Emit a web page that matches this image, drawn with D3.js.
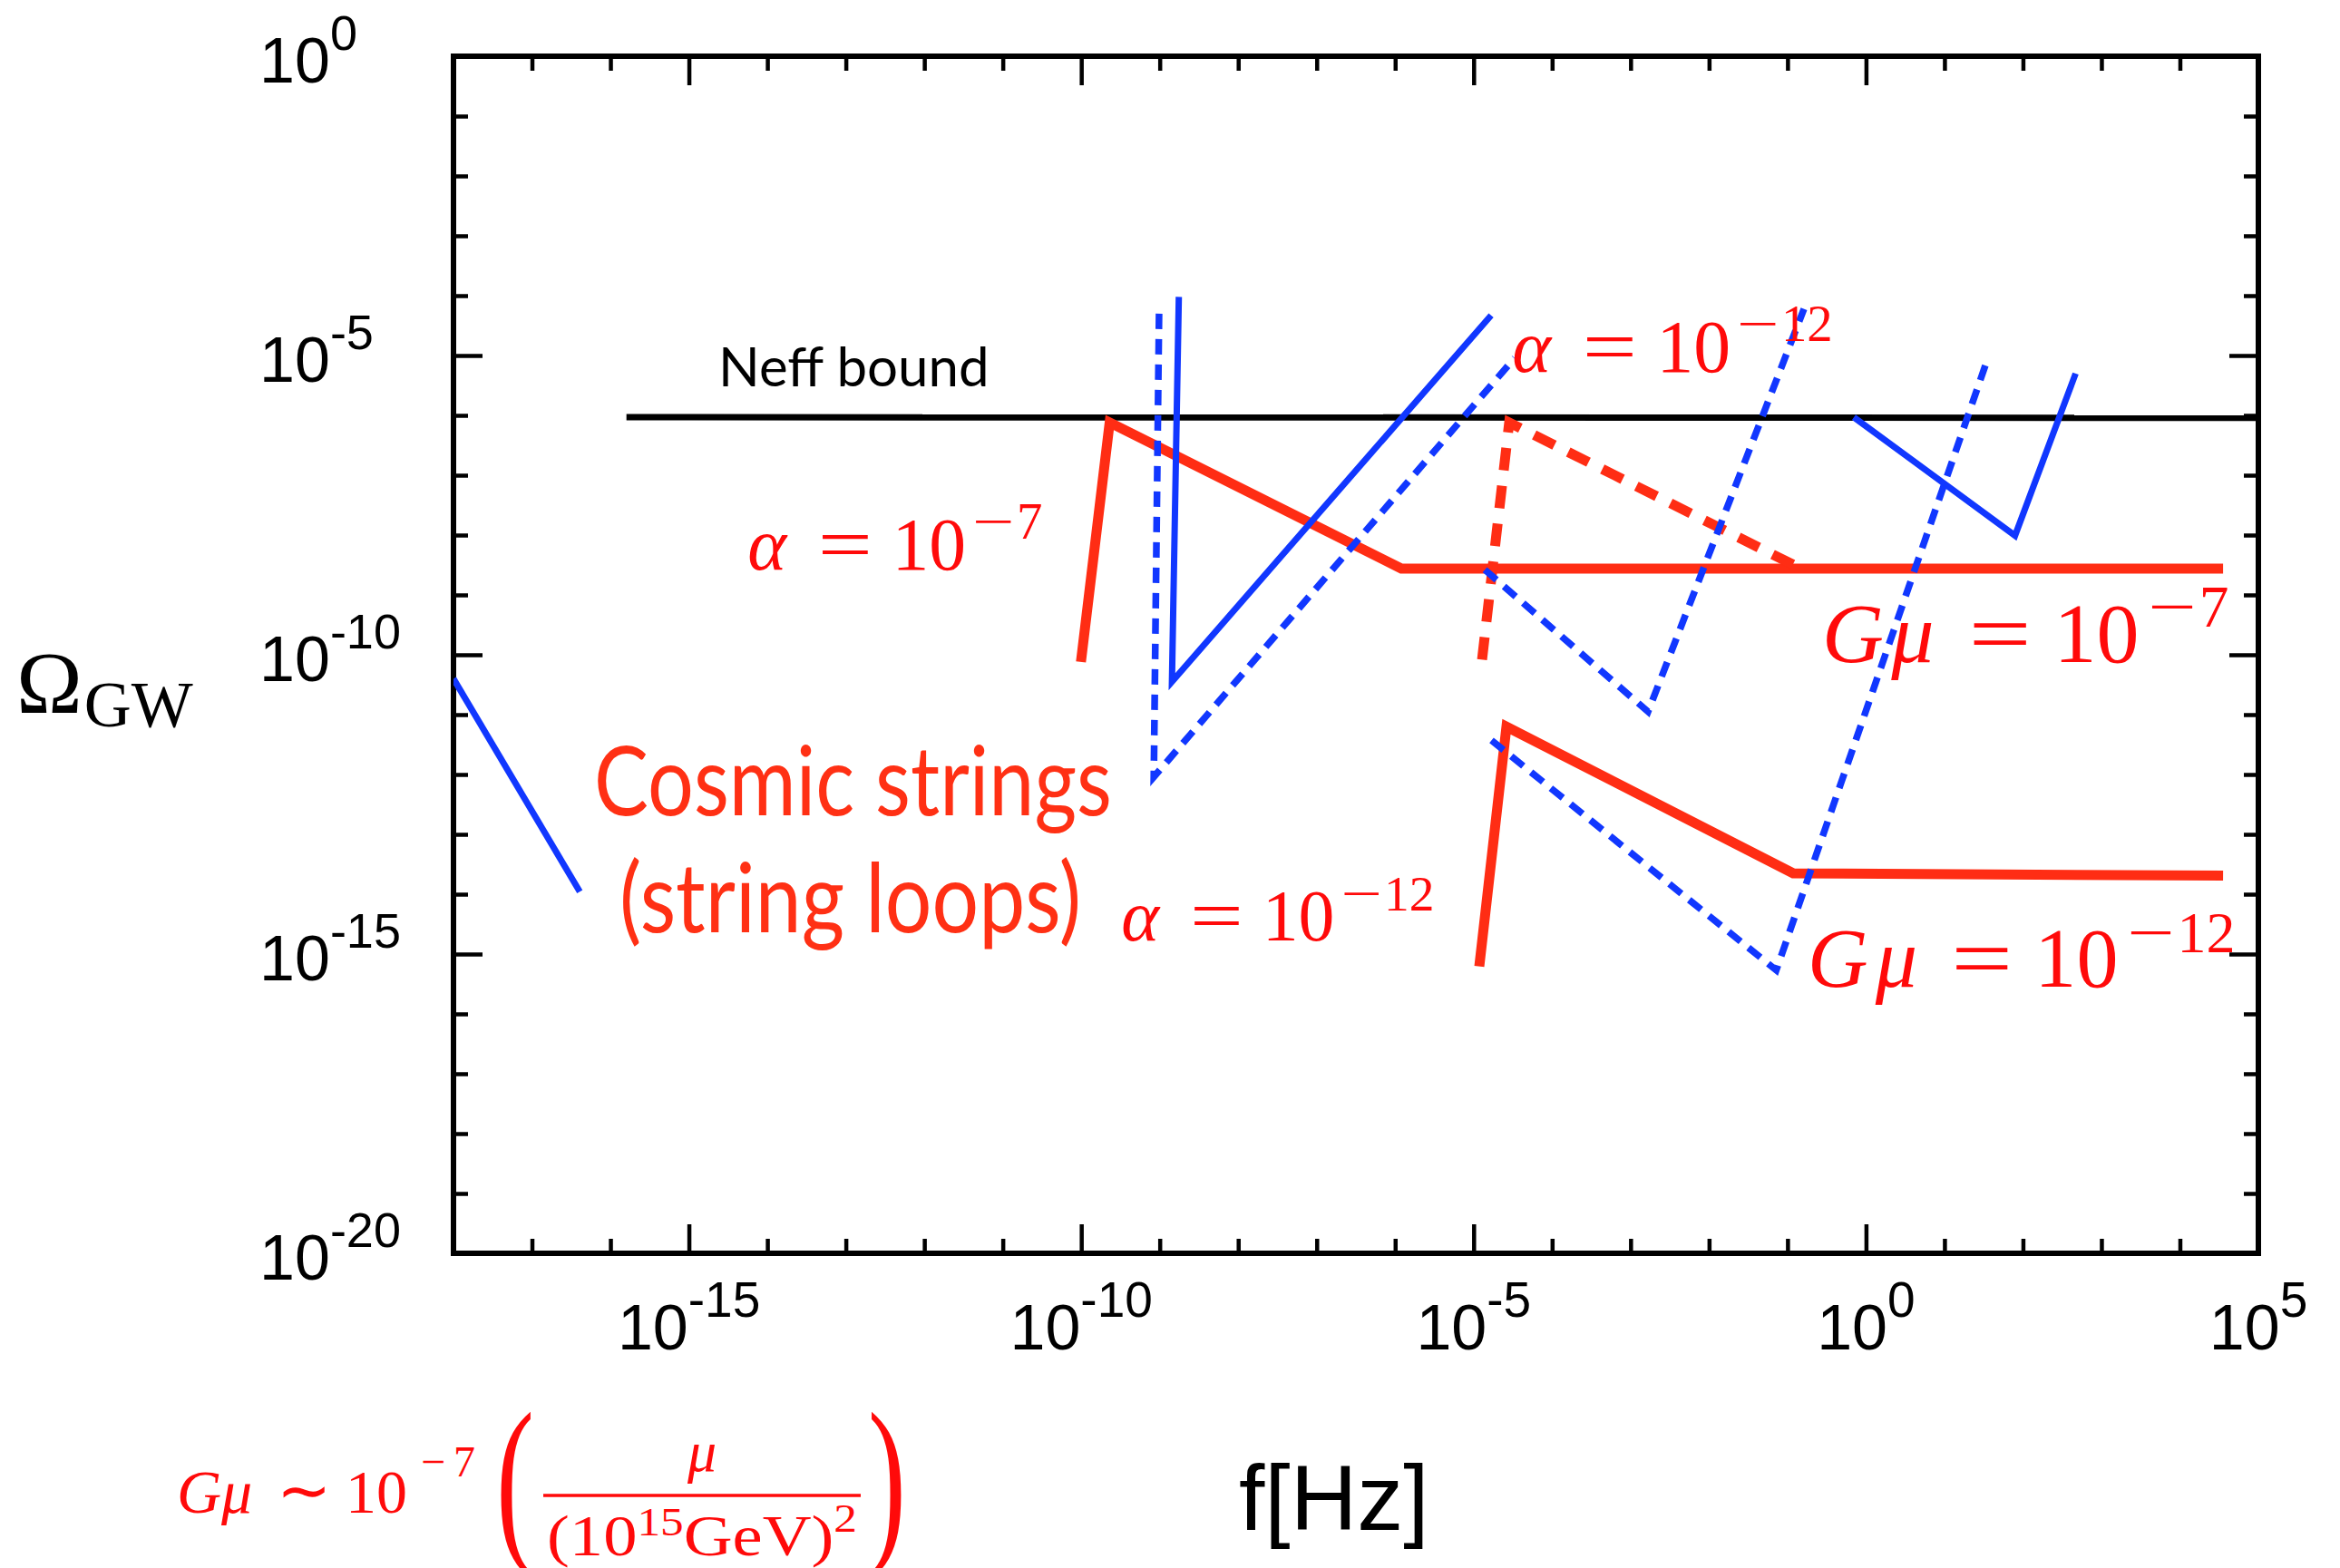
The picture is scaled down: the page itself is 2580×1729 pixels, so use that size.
<!DOCTYPE html>
<html>
<head>
<meta charset="utf-8">
<script src="https://cdn.jsdelivr.net/npm/d3@7/dist/d3.min.js"></script>
<style>
  html, body { margin: 0; padding: 0; background: #fff; }
  svg { display: block; }
</style>
</head>
<body>
<div id="chart"></div>
<script>
var width = 2580,
	height = 1729;

// axis ticks (Hz and Omega)
var xMajorTicks = [1e-15, 1e-10, 1e-5, 1, 1e5];
var xMajorExp = ['-15', '-10', '-5', '0', '5'];
var xMinorTicks = [1e-17, 1e-16, 1e-14, 1e-13, 1e-12, 1e-11, 1e-9, 1e-8, 1e-7, 1e-6,
	1e-4, 1e-3, 1e-2, 1e-1, 1e1, 1e2, 1e3, 1e4];
var yMajorTicks = [1, 1e-5, 1e-10, 1e-15, 1e-20];
var yMajorExp = ['0', '-5', '-10', '-15', '-20'];
var yMinorTicks = [1e-1, 1e-2, 1e-3, 1e-4, 1e-6, 1e-7, 1e-8, 1e-9, 1e-11, 1e-12, 1e-13, 1e-14,
	1e-16, 1e-17, 1e-18, 1e-19];

// curves: [f (Hz), Omega_GW]
var neffBound   = [[1.6e-16, 9.3e-7], [1e5, 9.1e-7]];
var blueLeft    = [[1e-18, 3.98e-11], [4.07e-17, 1.10e-14]];
var blueSolidA  = [[1.75e-9, 9.55e-5], [1.43e-9, 3.55e-11], [1.67e-5, 4.68e-5]];
var blueDashA   = [[9.8e-10, 5.0e-5], [8.4e-10, 9.1e-13], [3.33e-5, 9.1e-6]];
var blueDashB   = [[1.39e-5, 2.63e-9], [1.67e-3, 1.12e-11], [0.162, 6.0e-5]];
var blueSolidB  = [[0.70, 9.3e-7], [79.3, 9.8e-9], [469, 5.0e-6]];
var blueDashC   = [[1.69e-5, 3.72e-12], [0.0719, 5.37e-16], [36.0, 9.3e-6]];
var redA7G7     = [[9.9e-11, 7.6e-11], [2.3e-10, 7.6e-7], [1.2e-6, 2.75e-9], [3.55e4, 2.75e-9]];
var redA12G7    = [[1.28e-5, 8.3e-11], [2.84e-5, 7.6e-7], [0.13, 3.0e-9]];
var redA12G12   = [[1.18e-5, 6.2e-16], [2.62e-5, 6.3e-12], [0.118, 2.24e-14], [3.55e4, 2.04e-14]];

(function() {
	var RED = '#ff2d14',
		BLUE = '#1137ff',
		TEX = '#ff0a0a',
		SANS = '"Liberation Sans", Arial, Helvetica, sans-serif',
		SERIF = '"Liberation Serif", "Times New Roman", serif',
		GILL = 'Lato, "Open Sans", sans-serif';

	var pLeft = 500, pRight = 2490, pTop = 62, pBottom = 1382;

	var svg = d3.select('#chart').append('svg')
		.attr('width', width)
		.attr('height', height)
		.attr('viewBox', '0 0 ' + width + ' ' + height);

	svg.append('rect').attr('width', width).attr('height', height).attr('fill', '#fff');

	var x = d3.scaleLog().domain([1e-18, 1e5]).range([pLeft, pRight]);
	var y = d3.scaleLog().domain([1e-20, 1]).range([pBottom, pTop]);

	svg.append('clipPath').attr('id', 'plot')
		.append('rect').attr('x', pLeft).attr('y', pTop)
		.attr('width', pRight - pLeft).attr('height', pBottom - pTop);

	//Ticks on all four sides, pointing inward
	function ticks(axis, vals, size, tx, ty) {
		var g = svg.append('g')
			.attr('transform', 'translate(' + tx + ',' + ty + ')')
			.call(axis.tickValues(vals).tickSize(-size).tickFormat(''));
		g.select('.domain').remove();
		g.selectAll('line').attr('stroke', '#000').attr('stroke-width', 4.5);
	}
	[[xMinorTicks, 16], [xMajorTicks, 32]].forEach(function(t) {
		ticks(d3.axisBottom(x), t[0], t[1], 0, pBottom);
		ticks(d3.axisTop(x), t[0], t[1], 0, pTop);
	});
	[[yMinorTicks, 16], [yMajorTicks, 32]].forEach(function(t) {
		ticks(d3.axisLeft(y), t[0], t[1], pLeft, 0);
		ticks(d3.axisRight(y), t[0], t[1], pRight, 0);
	});

	//Frame
	svg.append('rect')
		.attr('x', pLeft).attr('y', pTop)
		.attr('width', pRight - pLeft).attr('height', pBottom - pTop)
		.attr('fill', 'none').attr('stroke', '#000').attr('stroke-width', 6);

	//Tick labels
	xMajorTicks.forEach(function(v, i) {
		var t = svg.append('text')
			.attr('x', x(v)).attr('y', 1488)
			.attr('text-anchor', 'middle')
			.attr('font-family', SANS).attr('font-size', 70);
		t.append('tspan').text('10');
		t.append('tspan').attr('dy', -36).attr('font-size', 55).text(xMajorExp[i]);
	});
	yMajorTicks.forEach(function(v, i) {
		var t = svg.append('text')
			.attr('x', 286).attr('y', y(v) + 29)
			.attr('font-family', SANS).attr('font-size', 70);
		t.append('tspan').text('10');
		t.append('tspan').attr('dy', -36).attr('font-size', 54).text(yMajorExp[i]);
	});

	//Curves
	var line = d3.line().x(function(d) { return x(d[0]); }).y(function(d) { return y(d[1]); });
	var curves = [
		{data: neffBound,  color: '#000', w: 7},
		{data: redA7G7,    color: RED,  w: 11},
		{data: redA12G12,  color: RED,  w: 11},
		{data: redA12G7,   color: RED,  w: 11, dash: '25,17'},
		{data: blueLeft,   color: BLUE, w: 7},
		{data: blueSolidA, color: BLUE, w: 7},
		{data: blueSolidB, color: BLUE, w: 7},
		{data: blueDashA,  color: BLUE, w: 7.5, dash: '17,11'},
		{data: blueDashB,  color: BLUE, w: 7.5, dash: '17,11'},
		{data: blueDashC,  color: BLUE, w: 7.5, dash: '17,11'}
	];
	var gLines = svg.append('g').attr('clip-path', 'url(#plot)');
	curves.forEach(function(c) {
		gLines.append('path')
			.datum(c.data)
			.attr('d', line)
			.attr('fill', 'none')
			.attr('stroke', c.color)
			.attr('stroke-width', c.w)
			.attr('stroke-linejoin', 'miter')
			.attr('stroke-dasharray', c.dash || null);
	});

	//Axis titles
	var om = svg.append('text').attr('x', 18).attr('y', 786)
		.attr('font-family', SERIF).attr('font-size', 98);
	om.append('tspan').text('\u03A9');
	om.append('tspan').attr('dy', 15).attr('dx', 2).attr('font-size', 72).text('GW');

	svg.append('text').attr('x', 1366).attr('y', 1687)
		.attr('font-family', SANS).attr('font-size', 102).text('f[Hz]');

	svg.append('text').attr('x', 792).attr('y', 426)
		.attr('font-family', GILL).attr('font-size', 60).attr('fill', '#000').text('Neff bound');

	svg.append('text').attr('x', 655).attr('y', 899)
		.attr('font-family', GILL).attr('font-size', 106).attr('fill', '#ff3014')
		.attr('textLength', 571).attr('lengthAdjust', 'spacingAndGlyphs').text('Cosmic strings');
	svg.append('text').attr('x', 683).attr('y', 1028)
		.attr('font-family', GILL).attr('font-size', 106).attr('fill', '#ff3014')
		.attr('textLength', 509).attr('lengthAdjust', 'spacingAndGlyphs').text('(string loops)');

	//TeX-like equation labels: lhs = 10^{-exp}
	function eqLabel(lhs, exp, x0, y0, C) {
		var F = 0.95 * C, S = 0.66 * C;
		var isG = lhs === 'G\u03BC';
		var off = isG ? {eq: 1.60, ten: 2.55, minus: 3.60, dig: 4.17}
			: {eq: 0.88, ten: 1.83, minus: 2.86, dig: 3.43};
		var g = svg.append('g').attr('fill', TEX).attr('font-family', SERIF);
		if (isG) {
			g.append('text').attr('x', x0 - 0.03 * C).attr('y', y0).attr('font-size', F).attr('font-style', 'italic').text('G');
			g.append('text').attr('x', x0 + 0.74 * C).attr('y', y0).attr('font-size', F).attr('font-style', 'italic').text('\u03BC');
		} else {
			g.append('text').attr('x', x0 - 0.02 * C).attr('y', y0).attr('font-size', F).attr('font-style', 'italic').text('\u03B1');
		}
		g.append('text').attr('x', x0 + off.eq * C).attr('y', y0).attr('font-size', F)
			.attr('textLength', 0.70 * C).attr('lengthAdjust', 'spacingAndGlyphs').text('=');
		g.append('text').attr('x', x0 + off.ten * C).attr('y', y0).attr('font-size', F).text('10');
		g.append('text').attr('x', x0 + off.minus * C).attr('y', y0 - 0.39 * C).attr('font-size', S)
			.attr('textLength', 0.54 * C).attr('lengthAdjust', 'spacingAndGlyphs').text('\u2212');
		g.append('text').attr('x', x0 + off.dig * C).attr('y', y0 - 0.39 * C).attr('font-size', S).text(exp);
	}
	eqLabel('\u03B1', '7', 826, 628, 86);
	eqLabel('\u03B1', '12', 1669, 410, 86);
	eqLabel('\u03B1', '12', 1238, 1037, 84);
	eqLabel('G\u03BC', '7', 2012, 730, 99);
	eqLabel('G\u03BC', '12', 1996, 1088, 97);

	//Bottom formula: G mu ~ 10^-7 ( mu / (10^15 GeV)^2 )
	var fm = svg.append('g').attr('fill', TEX).attr('font-family', SERIF);
	fm.append('text').attr('x', 195).attr('y', 1668).attr('font-size', 68).attr('font-style', 'italic').text('G\u03BC');
	fm.append('text').attr('x', 305).attr('y', 1668).attr('font-size', 72).text('\u223C');
	fm.append('text').attr('x', 381).attr('y', 1668).attr('font-size', 68).text('10');
	fm.append('text').attr('x', 464).attr('y', 1628).attr('font-size', 48)
		.attr('textLength', 60).attr('lengthAdjust', 'spacing').text('\u22127');
	fm.append('text').attr('transform', 'translate(547,1698) scale(0.62,1)').attr('font-size', 203).text('(');
	fm.append('text').attr('transform', 'translate(957,1698) scale(0.62,1)').attr('font-size', 203).text(')');
	fm.append('text').attr('x', 774).attr('y', 1622).attr('text-anchor', 'middle')
		.attr('font-size', 64).attr('font-style', 'italic').text('\u03BC');
	fm.append('line').attr('x1', 599).attr('x2', 949).attr('y1', 1649).attr('y2', 1649)
		.attr('stroke', TEX).attr('stroke-width', 3.5);
	var den = fm.append('text').attr('x', 603).attr('y', 1715).attr('font-size', 64)
		.attr('textLength', 342).attr('lengthAdjust', 'spacingAndGlyphs');
	den.append('tspan').text('(10');
	den.append('tspan').attr('dy', -22).attr('font-size', 44).text('15');
	den.append('tspan').attr('dy', 22).text('GeV)');
	den.append('tspan').attr('dy', -26).attr('font-size', 44).text('2');
})();
</script>
</body>
</html>
